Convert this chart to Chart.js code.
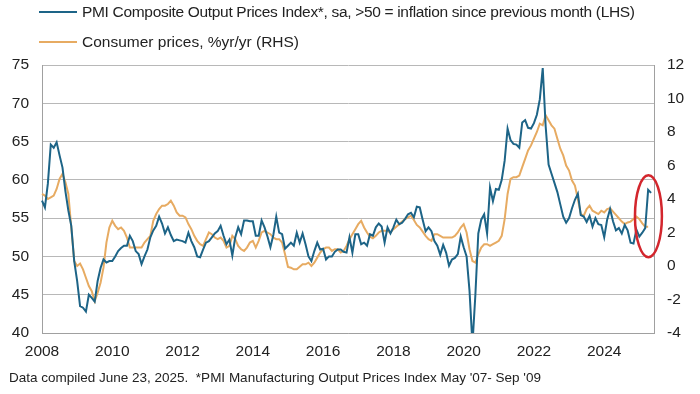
<!DOCTYPE html>
<html>
<head>
<meta charset="utf-8">
<script src="https://cdn.jsdelivr.net/npm/chart.js"></script>
<style>
  html, body { margin: 0; padding: 0; background: #fff; }
  #wrap { position: relative; width: 700px; height: 394px; font-family: "Liberation Sans", Arial, sans-serif; color: #222; }
  #chart { position: absolute; left: 0; top: 0; }
  .legend-row { position: absolute; left: 39px; height: 20px; display: flex; align-items: center; font-size: 15.5px; white-space: nowrap; }
  .legend-row .swatch { display: inline-block; width: 38px; height: 2px; margin-right: 5px; }
  #lg0 { letter-spacing: -0.32px; }
  #note { position: absolute; left: 9px; top: 370px; font-size: 13.5px; line-height: 16px; white-space: pre; }
</style>
</head>
<body>
<div id="wrap">
  <canvas id="chart" width="700" height="394"></canvas>
  <div class="legend-row" style="top:2px"><span class="swatch" id="sw0"></span><span id="lg0"></span></div>
  <div class="legend-row" style="top:32px"><span class="swatch" id="sw1"></span><span id="lg1"></span></div>
  <div id="note"></div>
</div>
<script>
//================================ Data =================================

var startYear = 2008;
var monthCount = 210;   // Jan 2008 .. Jun 2025

var pmiLabel = "PMI Composite Output Prices Index*, sa, >50 = inflation since previous month (LHS)";
var cpiLabel = "Consumer prices, %yr/yr (RHS)";
var footNote = "Data compiled June 23, 2025.  *PMI Manufacturing Output Prices Index May '07- Sep '09";

var leftTicks = [40, 75, 5];    // min, max, step
var rightTicks = [-4, 12, 2];

// PMI output prices, monthly from Jan 2008
var pmiValues = [
    57.3, 56.4, 59.5, 64.6, 64.2, 64.9, 63.2, 61.6, 58.5, 56.0, 54.0, 49.4, // 2008
    46.8, 43.5, 43.3, 42.8, 45.0, 44.6, 44.1, 46.8, 48.5, 49.6, 49.2, 49.4, // 2009
    49.4, 50.0, 50.7, 51.1, 51.4, 51.4, 52.7, 52.0, 50.7, 50.3, 49.0, 50.0, // 2010
    50.9, 52.5, 53.4, 54.0, 55.2, 54.3, 53.0, 53.8, 52.8, 52.0, 52.2, 52.1, // 2011
    52.0, 51.8, 53.1, 52.0, 51.2, 50.0, 49.9, 50.9, 51.8, 52.0, 52.5, 53.0, // 2012
    53.3, 54.0, 52.7, 51.6, 52.2, 50.1, 52.5, 53.8, 52.9, 54.7, 54.7, 54.6, // 2013
    54.6, 52.7, 52.7, 54.7, 53.8, 52.6, 51.2, 52.8, 55.2, 53.1, 52.9, 51.0, // 2014
    51.4, 51.8, 51.4, 53.1, 51.8, 53.0, 51.6, 50.0, 49.4, 50.7, 51.8, 50.9, // 2015
    51.0, 49.6, 50.0, 50.0, 50.6, 50.9, 50.9, 50.6, 50.5, 52.5, 50.5, 52.9, // 2016
    52.9, 51.6, 51.8, 51.4, 52.9, 52.7, 53.8, 54.3, 53.9, 51.8, 53.8, 53.0, // 2017
    53.8, 54.8, 54.2, 54.4, 54.9, 55.5, 55.7, 55.1, 56.5, 56.4, 54.8, 53.3, // 2018
    53.8, 53.3, 52.0, 51.4, 50.2, 51.5, 50.5, 48.8, 49.6, 49.8, 50.3, 52.6, // 2019
    51.2, 50.0, 45.5, 38.5, 45.0, 53.0, 54.8, 55.5, 53.0, 59.0, 57.2, 58.8, // 2020
    58.7, 60.0, 62.5, 66.7, 65.2, 64.7, 64.6, 64.2, 67.5, 67.8, 66.8, 66.7, // 2021
    67.4, 68.5, 70.5, 74.6, 67.0, 62.0, 60.8, 59.6, 58.4, 56.8, 55.2, 54.4, // 2022
    55.0, 56.3, 57.4, 58.2, 55.4, 55.2, 54.5, 55.3, 53.9, 55.0, 54.2, 54.1, // 2023
    52.5, 54.8, 56.2, 54.6, 53.4, 53.7, 53.0, 54.1, 53.4, 51.8, 51.7, 53.5, // 2024
    52.6, 53.1, 53.7, 58.7, 58.3                                            // 2025
];

// Consumer prices %yr/yr, monthly from Jan 2008
var cpiValues = [
    4.3, 4.2, 4.0, 4.1, 4.2, 4.6, 5.2, 5.5, 5.0, 4.3, 2.3, 0.3,        // 2008
    0.0, 0.15, -0.2, -0.7, -1.2, -1.5, -2.1, -1.6, -1.0, -0.1, 1.4, 2.3, // 2009
    2.7, 2.4, 2.2, 2.3, 2.1, 1.7, 1.1, 1.1, 1.1, 1.1, 1.1, 1.4,        // 2010
    1.6, 1.8, 2.7, 3.1, 3.4, 3.6, 3.6, 3.7, 3.9, 3.6, 3.2, 3.0,        // 2011
    3.0, 2.9, 2.5, 2.2, 1.8, 1.5, 1.3, 1.2, 1.6, 2.0, 1.9, 1.7,        // 2012
    1.6, 1.7, 1.5, 1.1, 1.2, 1.8, 1.6, 1.2, 1.0, 0.9, 1.1, 1.4,        // 2013
    1.5, 1.1, 1.5, 2.0, 2.1, 2.0, 1.9, 1.7, 1.6, 1.6, 1.4, 0.7,        // 2014
    -0.05, -0.1, -0.2, -0.2, -0.05, 0.1, 0.1, 0.2, 0.0, 0.2, 0.5, 0.8, // 2015
    1.0, 1.1, 1.1, 0.9, 1.0, 1.0, 0.8, 0.9, 1.2, 1.6, 1.9, 2.2,        // 2016
    2.5, 2.7, 2.3, 2.0, 1.75, 1.65, 1.8, 2.0, 2.1, 2.1, 2.1, 2.0,      // 2017
    2.2, 2.35, 2.5, 2.65, 2.8, 2.9, 3.0, 2.75, 2.45, 2.3, 2.05, 1.8,   // 2018
    1.6, 1.5, 1.9, 1.9, 1.8, 1.7, 1.7, 1.7, 1.7, 1.8, 2.0, 2.3,        // 2019
    2.5, 2.0, 1.0, 0.3, 0.2, 0.7, 1.1, 1.3, 1.3, 1.2, 1.3, 1.4,        // 2020
    1.5, 1.8, 2.8, 4.3, 5.2, 5.3, 5.3, 5.4, 5.9, 6.4, 6.9, 7.2,        // 2021
    7.6, 8.0, 8.5, 8.4, 9.0, 8.7, 8.4, 8.2, 7.6, 7.0, 6.6, 6.0,        // 2022
    5.7, 5.1, 4.8, 4.0, 3.1, 3.0, 3.4, 3.6, 3.3, 3.2, 3.1, 3.3,        // 2023
    3.2, 3.4, 3.45, 3.25, 3.05, 2.85, 2.65, 2.5, 2.6, 2.65, 2.8, 2.95, // 2024
    2.8, 2.55, 2.35, 2.35                                              // 2025
];

// red ring round the latest readings: month index range and LHS value range
var ringMonths = [202.5, 211.7];
var ringValues = [49.9, 60.6];

var pmiColor = '#1d6487';
var cpiColor = '#e7ab62';
var gridColor = '#b8b8b8';
var textColor = '#222';

//================================ Labels =================================

var months = [];
for (var i = 0; i < monthCount; i++) {
    months.push({ year: startYear + Math.floor(i / 12), month: (i % 12) + 1 });
}
var monthLabels = months.map(function (m) { return m.year + '-' + (m.month < 10 ? '0' : '') + m.month; });

document.getElementById('lg0').textContent = pmiLabel;
document.getElementById('lg1').textContent = cpiLabel;
document.getElementById('sw0').style.background = pmiColor;
document.getElementById('sw1').style.background = cpiColor;
document.getElementById('note').textContent = footNote;

//================================ Chart =================================

var ringPlugin = {
    id: 'ring',
    afterDatasetsDraw: function (chart) {
        var ctx = chart.ctx;
        var x = chart.scales.x, y = chart.scales.y;
        var x0 = x.getPixelForValue(ringMonths[0]), x1 = x.getPixelForValue(ringMonths[1]);
        var y0 = y.getPixelForValue(ringValues[1]), y1 = y.getPixelForValue(ringValues[0]);
        ctx.save();
        ctx.beginPath();
        ctx.ellipse((x0 + x1) / 2, (y0 + y1) / 2, (x1 - x0) / 2, (y1 - y0) / 2, 0, 0, Math.PI * 2);
        ctx.strokeStyle = '#d3262d';
        ctx.lineWidth = 2.5;
        ctx.stroke();
        ctx.restore();
    }
};

var tickFont = { family: '"Liberation Sans", Arial, sans-serif', size: 15.5 };

var chrt = document.getElementById('chart').getContext('2d');
var config = {
    type: 'line',
    data: {
        labels: monthLabels,
        datasets: [{
            label: pmiLabel,
            data: pmiValues,
            yAxisID: 'y',
            borderColor: pmiColor,
            borderWidth: 2,
            pointRadius: 0,
            tension: 0
        }, {
            label: cpiLabel,
            data: cpiValues,
            yAxisID: 'y1',
            borderColor: cpiColor,
            borderWidth: 2,
            pointRadius: 0,
            tension: 0
        }]
    },
    options: {
        responsive: false,
        animation: false,
        layout: { padding: { top: 65, bottom: 31, left: 0, right: 0 } },
        plugins: {
            legend: { display: false },
            tooltip: { enabled: false }
        },
        scales: {
            x: {
                type: 'category',
                offset: false,
                grid: { display: false, drawTicks: false },
                border: { display: true, color: '#a0a0a0', width: 1 },
                ticks: {
                    autoSkip: false,
                    maxRotation: 0,
                    padding: 9,
                    color: textColor,
                    font: tickFont,
                    callback: function (val, idx) {
                        var m = months[idx];
                        return (m.month === 1 && m.year % 2 === 0) ? String(m.year) : null;
                    }
                },
                afterFit: function (scale) { scale.height = 30; }
            },
            y: {
                position: 'left',
                min: leftTicks[0],
                max: leftTicks[1],
                grid: { color: gridColor, drawTicks: false },
                border: { display: true, color: '#a0a0a0' },
                ticks: { stepSize: leftTicks[2], padding: 13, color: textColor, font: tickFont },
                afterFit: function (scale) { scale.width = 42; }
            },
            y1: {
                position: 'right',
                min: rightTicks[0],
                max: rightTicks[1],
                grid: { drawOnChartArea: false, drawTicks: false },
                border: { display: true, color: '#a0a0a0' },
                ticks: { stepSize: rightTicks[2], padding: 13, color: textColor, font: tickFont },
                afterFit: function (scale) { scale.width = 46; }
            }
        }
    },
    plugins: [ringPlugin]
};

var priceChart = new Chart(chrt, config);
</script>
</body>
</html>
